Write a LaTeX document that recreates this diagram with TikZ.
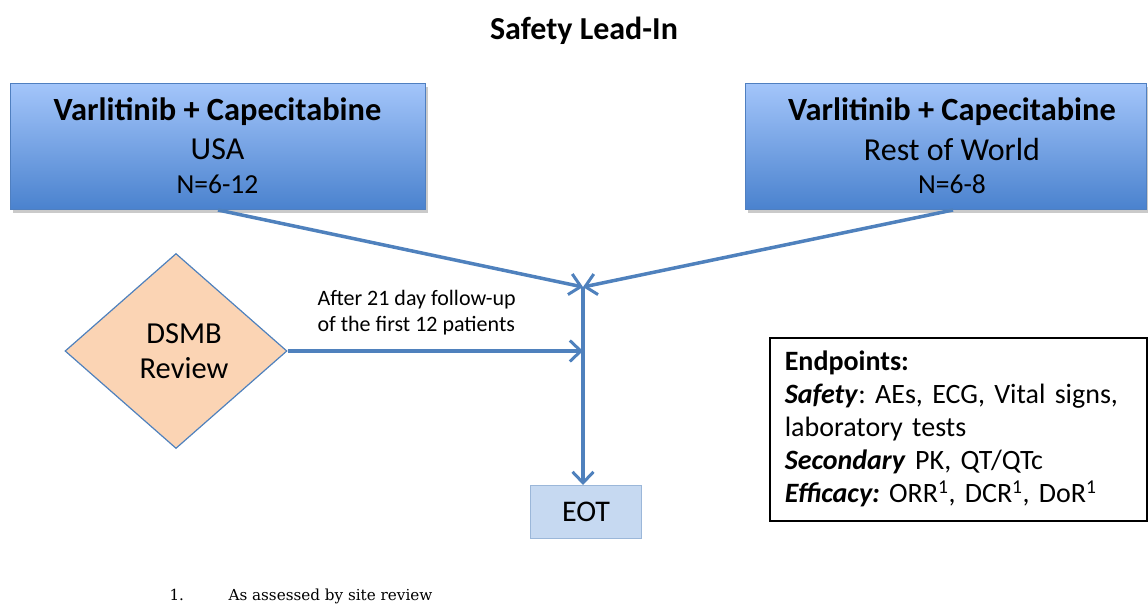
\documentclass[tikz,border=0pt]{standalone}
\usepackage{fontspec}
\setmainfont{Carlito}
\newfontfamily\footfont{DejaVu Serif}
\usetikzlibrary{arrows.meta,shapes.geometric,shadows,calc}
\definecolor{boxtop}{HTML}{A3C5FA}
\definecolor{boxbot}{HTML}{4A82CE}
\definecolor{boxline}{HTML}{4F7FC0}
\definecolor{conncol}{HTML}{4F81BD}
\definecolor{dsmbfill}{HTML}{FBD4B4}
\definecolor{dsmbline}{HTML}{4F81BD}
\definecolor{eotfill}{HTML}{C6D9F1}
\definecolor{eotline}{HTML}{9BB7D9}
\frenchspacing
\begin{document}
\begin{tikzpicture}[x=1pt,y=-1pt,
  armbox/.style={draw=boxline, line width=1pt, top color=boxtop, bottom color=boxbot,
    minimum width=415pt, minimum height=126pt, anchor=north west, inner sep=0pt,
    drop shadow={shadow xshift=2pt, shadow yshift=-3pt, opacity=0.35, fill=black!60}},
  boldline/.style={font=\fontsize{32.4}{38}\selectfont\bfseries, anchor=base},
  regline/.style={font=\fontsize{32}{38}\selectfont, anchor=base},
  nline/.style={font=\fontsize{27.5}{32}\selectfont, anchor=base},
  conn/.style={draw=conncol, line width=3.5pt},
  tip/.style={-{Straight Barb[length=11pt,width=21pt,line width=3pt]}},
  foot/.style={font=\footfont\fontsize{15.2}{18}\selectfont, anchor=base west},
]
\useasboundingbox (0,0) rectangle (1148,605);
\clip (0,0) rectangle (1148,605);

% title
\node[font=\fontsize{32}{38}\selectfont\bfseries, anchor=base] (title) at (584,39) {Safety Lead-In};

% arm boxes
\node[armbox] (usa) at (10,83) {};
\node[boldline] (usat1) at (217.5,120) {Varlitinib + Capecitabine};
\node[regline] (usat2) at (217.5,159) {USA};
\node[nline] (usat3) at (217.5,193) {N=6-12};

\node[armbox, minimum width=401pt] (row) at (745,83) {};
\node[boldline] (rowt1) at (952,120) {Varlitinib + Capecitabine};
\node[regline] (rowt2) at (952,160) {Rest of World};
\node[nline] (rowt3) at (952,193) {N=6-8};

% diamond
\node[diamond, draw=dsmbline, line width=1.2pt, fill=dsmbfill, inner sep=0pt,
  minimum width=222pt, minimum height=195pt] (dsmb) at (176,351) {};
\node[font=\fontsize{30.5}{36}\selectfont, align=center] (dsmbt) at (184,351) {DSMB\\[-1pt]Review};

% EOT
\node[draw=eotline, line width=1pt, fill=eotfill, minimum width=111pt, minimum height=53pt,
  anchor=north west, inner sep=0pt, font=\fontsize{30}{36}\selectfont] (eot) at (530,485) {EOT};

% junction
\coordinate (j) at (583,287);

% connectors
\draw[conn, tip] (usa.south) -- (j);
\draw[conn, tip] ($(row.south)+(7,0)$) -- (j);
\draw[conn, tip] (j) -- (eot.north -| j);
\draw[conn, tip] (dsmb.east) -- (dsmb.east -| j);

% label
\node[font=\fontsize{22}{26}\selectfont, align=left, anchor=north west] (lbl) at (314,287)
  {After 21 day follow-up\\of the first 12 patients};

% endpoints
\node[draw=black, line width=1.6pt, anchor=north west, minimum width=377pt, minimum height=183pt,
  inner xsep=15pt, text width=347pt, align=left,
  font=\fontsize{28}{33}\selectfont] (ep) at (769,337)
  {\textbf{Endpoints:}\\
   \textbf{\textit{Safety}}: AEs, ECG, Vital signs,\\
   laboratory tests\\
   \textbf{\textit{Secondary}} PK, QT/QTc\\
   \textbf{\textit{Efficacy:}} ORR\textsuperscript{1}, DCR\textsuperscript{1}, DoR\textsuperscript{1}};

% footnote
\node[foot] (fn1) at (166,600) {1.};
\node[foot] (fn2) at (225,600) {As assessed by site review};
\end{tikzpicture}
\end{document}
